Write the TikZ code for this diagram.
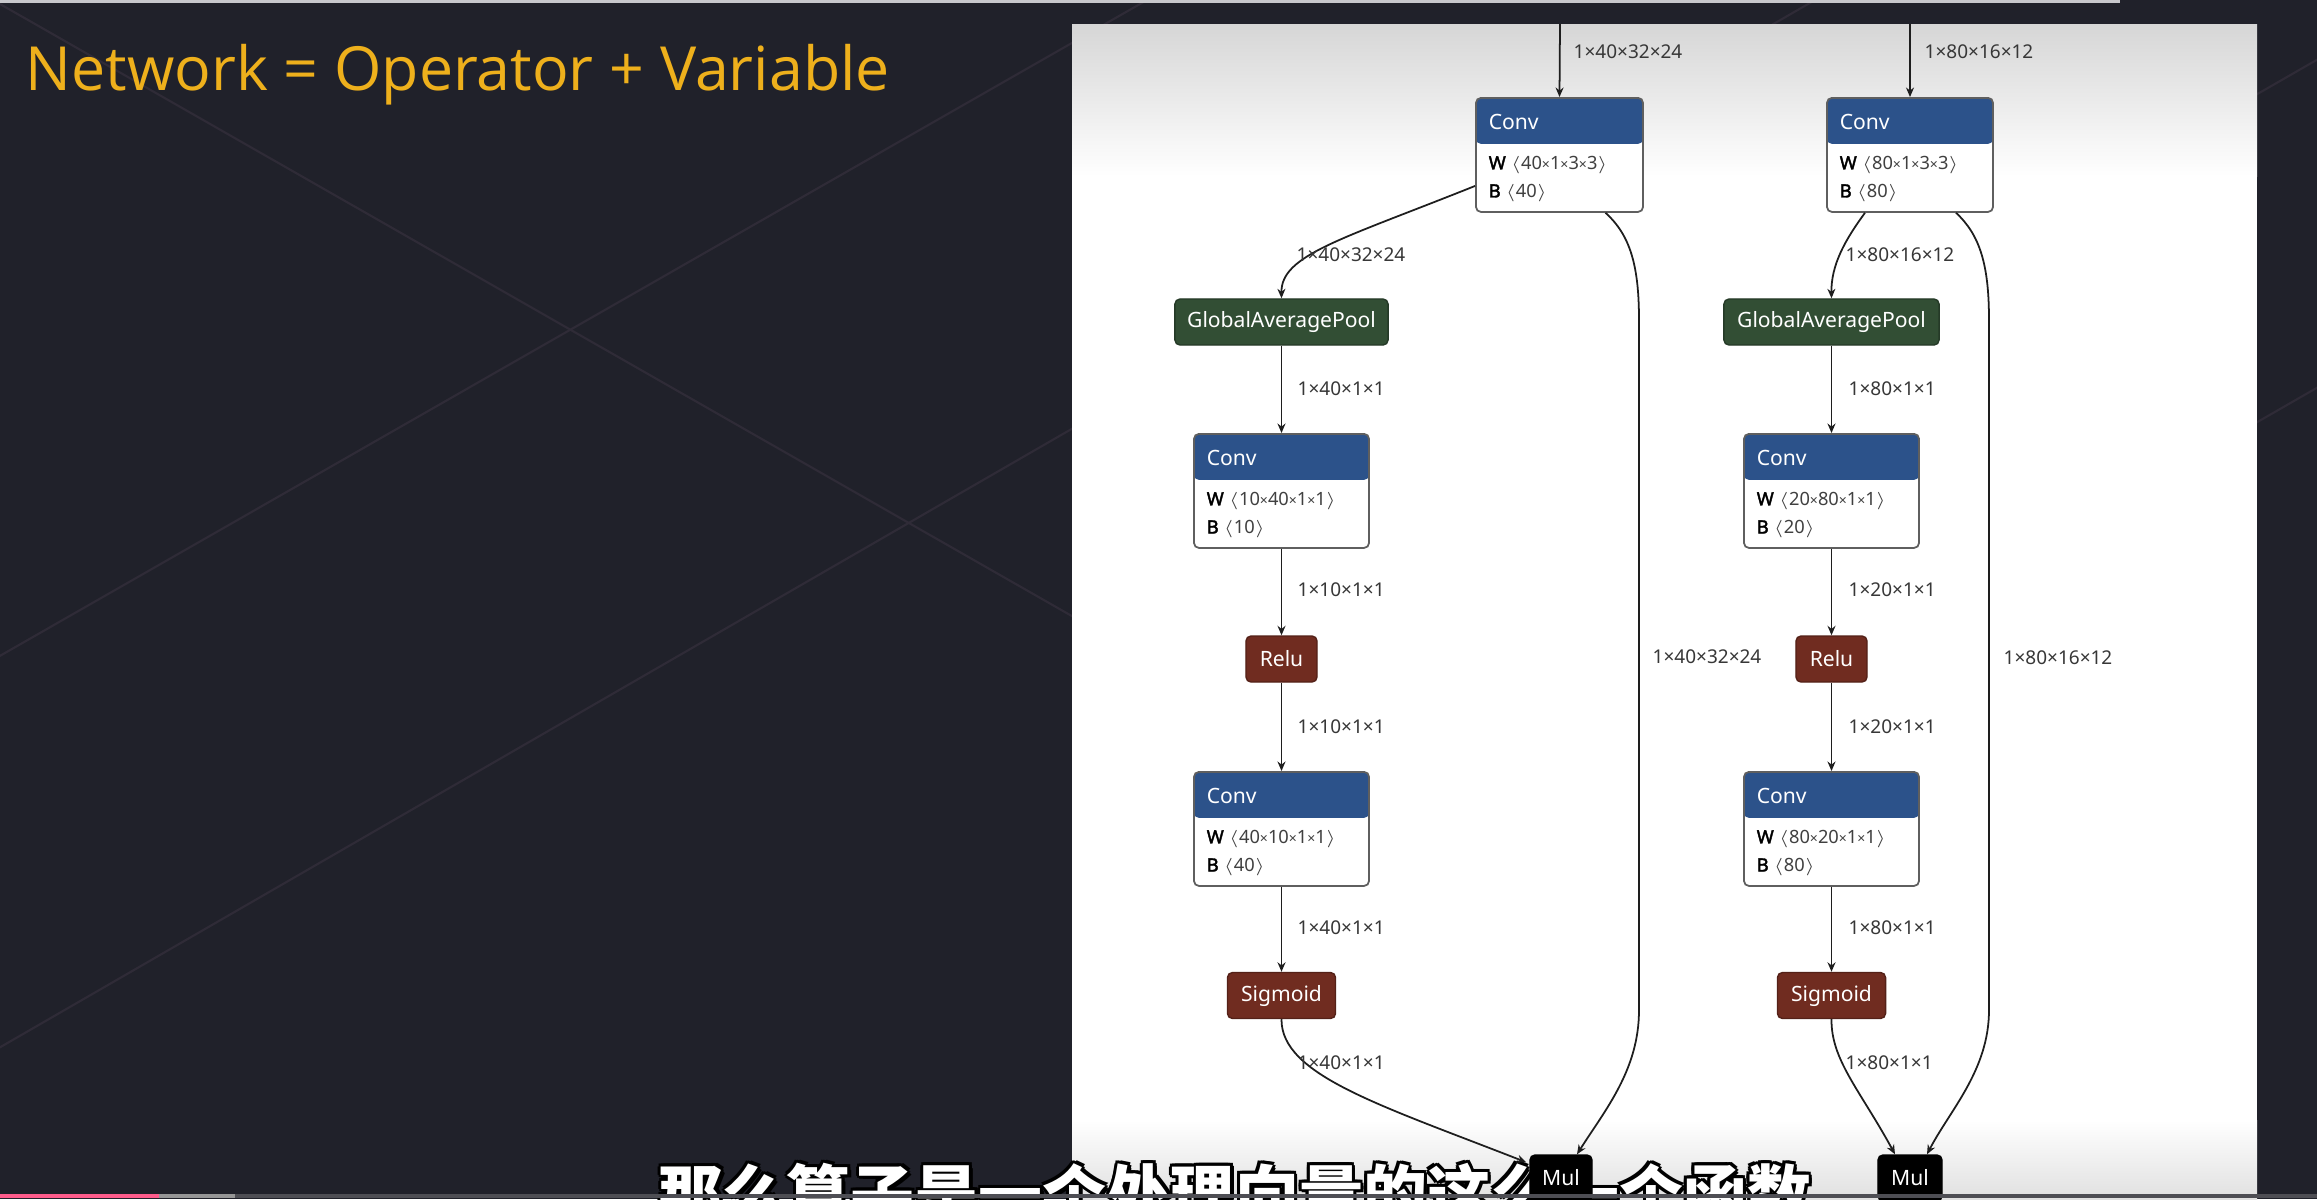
\documentclass[tikz,border=0pt]{standalone}
\usepackage{fontspec}
\setmainfont{Noto Sans}
\newfontfamily\titlefont{Open Sans}
\newfontfamily\cjkfont{Noto Sans CJK SC}
\newfontfamily\keyfont{Noto Sans}[FakeBold=2.2]
\usetikzlibrary{arrows.meta}

\definecolor{bgdark}{RGB}{32,33,42}
\definecolor{bgline}{RGB}{47,43,55}
\definecolor{topbar}{RGB}{200,200,204}
\definecolor{panelgray}{RGB}{214,214,214}
\definecolor{titlegold}{RGB}{238,176,28}
\definecolor{convblue}{RGB}{44,82,138}
\definecolor{poolgreen}{RGB}{50,78,52}
\definecolor{actred}{RGB}{112,44,32}
\definecolor{edgegray}{RGB}{30,30,30}
\definecolor{labelgray}{RGB}{55,55,55}
\definecolor{boxborder}{RGB}{95,95,95}
\definecolor{barpink}{RGB}{255,92,140}
\definecolor{barlight}{RGB}{150,150,150}
\definecolor{bardark}{RGB}{78,78,84}

\newcommand\nodefont{\fontsize{6pt}{7pt}\selectfont}
\newcommand\lblfont{\fontsize{5.4pt}{6pt}\selectfont}
\newcommand\prmfont{\fontsize{5.2pt}{6pt}\selectfont}
\newcommand\tms{{\fontsize{4pt}{4pt}\selectfont ×}}
\newcommand\keyname[1]{{\keyfont\color{black}#1}}

\tikzset{
  edge/.style={draw=edgegray, line width=0.5pt, -{Stealth[length=0.95mm,width=0.8mm]}},
  lbl/.style={anchor=west, inner sep=0, text=labelgray, font=\lblfont},
  opbox/.style={rounded corners=0.5mm, inner sep=0, text=white, font=\nodefont,
    minimum height=4.6mm, draw=#1!75!black, fill=#1, line width=0.4pt},
  convbox/.style={rounded corners=0.5mm, draw=boxborder, fill=white, line width=0.5pt,
    minimum width=#1, minimum height=11.4mm, anchor=north, inner sep=0,
    path picture={\fill[convblue] ([yshift=1pt]path picture bounding box.north west)
      rectangle ([yshift=-4.6mm]path picture bounding box.north east);}},
  hdrtxt/.style={anchor=west, inner sep=0, text=white, font=\nodefont},
  prmtxt/.style={anchor=west, inner sep=0, text=black!75, font=\prmfont},
  subtl/.style={anchor=base, inner sep=0, font=\cjkfont\bfseries\fontsize{18.2pt}{20pt}\selectfont},
}

% Conv block: name, centre x, top y, width, weight shape, bias shape
\newcommand\convblock[6]{%
  \node[convbox=#4] (#1) at (#2,#3) {};
  \node[hdrtxt] (#1-t) at ([xshift=1.3mm,yshift=-2.5mm]#1.north west) {Conv};
  \node[prmtxt] (#1-w) at ([xshift=1.3mm,yshift=-6.8mm]#1.north west) {\keyname{W}\ $\langle$#5$\rangle$};
  \node[prmtxt] (#1-b) at ([xshift=1.3mm,yshift=-9.6mm]#1.north west) {\keyname{B}\ $\langle$#6$\rangle$};
}

\newcommand\subtext{那么算子是一个处理向量的这么一个函数}

\begin{document}
\begin{tikzpicture}[x=0.01cm, y=-0.01cm]
\useasboundingbox (0,0) rectangle (2317,1199);
\clip (0,0) rectangle (2317,1199);

% slide background
\fill[bgdark] (0,0) rectangle (2317,1199);
\draw[bgline, line width=0.6pt] (0,4) -- (2317,1327);
\draw[bgline, line width=0.6pt] (1147,0) -- (-100,713);
\draw[bgline, line width=0.6pt] (1815,0) -- (-100,1105);
\draw[bgline, line width=0.6pt] (2400,340) -- (2200,455);
\draw[bgline, line width=0.6pt] (2400,12) -- (2200,127);
\fill[topbar] (0,0) rectangle (2120,3);

% title
\node[anchor=base west, inner sep=0, text=titlegold,
      font=\titlefont\fontsize{17.3pt}{20pt}\selectfont] (title) at (25,90)
      {Network = Operator + Variable};

% graph panel
\shade[top color=panelgray, bottom color=white] (1072,24) rectangle (2257,176);
\fill[white] (1072,175) rectangle (2257,1121);
\shade[top color=white, bottom color=black!12] (1072,1120) rectangle (2257,1199);

% subtitle with dark outline
\foreach \dx/\dy in {-0.3/0,0.3/0,0/-0.3,0/0.3,-0.22/-0.22,0.22/0.22,-0.22/0.22,0.22/-0.22,0.35/-0.35}
  \node[subtl, text=black, xshift=\dx mm, yshift=\dy mm] at (1235,1218) {\subtext};
\node[subtl, text=white] (subtitle) at (1235,1218) {\subtext};

% ---- left branch ----
\coordinate (in1) at (1560,24);
\convblock{c1}{1559.5}{97}{16.7mm}{40\tms1\tms3\tms3}{40}
\node[opbox=poolgreen, minimum width=21.3mm] (g1) at (1281.5,322) {GlobalAveragePool};
\convblock{c2}{1281.5}{433}{17.5mm}{10\tms40\tms1\tms1}{10}
\node[opbox=actred, minimum width=7.1mm] (r1) at (1281.5,659) {Relu};
\convblock{c3}{1281.5}{771}{17.5mm}{40\tms10\tms1\tms1}{40}
\node[opbox=actred, minimum width=10.8mm] (s1) at (1281.5,995.5) {Sigmoid};

% ---- right branch ----
\coordinate (in2) at (1910,24);
\convblock{d1}{1910}{97}{16.6mm}{80\tms1\tms3\tms3}{80}
\node[opbox=poolgreen, minimum width=21.5mm] (g2) at (1831.5,322) {GlobalAveragePool};
\convblock{d2}{1831.5}{433}{17.5mm}{20\tms80\tms1\tms1}{20}
\node[opbox=actred, minimum width=7.1mm] (r2) at (1831.5,659) {Relu};
\convblock{d3}{1831.5}{771}{17.5mm}{80\tms20\tms1\tms1}{80}
\node[opbox=actred, minimum width=10.8mm] (s2) at (1831.5,995.5) {Sigmoid};

% Mul nodes
\node[opbox=black, minimum width=6.2mm] (m1) at (1561,1178) {Mul};
\node[opbox=black, minimum width=6.4mm] (m2) at (1910,1178) {Mul};

% ---- left edges ----
\draw[edge] (in1) -- (c1.north);
\draw[edge] ([yshift=-3.1mm]c1.west) .. controls (1340,240) and (1281,255) .. (g1.north);
\draw[edge] (g1.south) -- (c2.north);
\draw[edge] (c2.south) -- (r1.north);
\draw[edge] (r1.south) -- (c3.north);
\draw[edge] (c3.south) -- (s1.north);
\draw[edge] (s1.south) .. controls (1281,1075) and (1380,1105) .. ([xshift=-0.3mm,yshift=-0.8mm]m1.north west);
\draw[edge] ([xshift=4.6mm]c1.south) .. controls (1630,235) and (1639,265) .. (1639,320)
  -- (1639,1010) .. controls (1639,1070) and (1605,1110) .. ([xshift=1.6mm]m1.north);

\node[lbl] (l1) at (1573,52) {1×40×32×24};
\node[lbl] (l2) at (1296,255) {1×40×32×24};
\node[lbl] (l3) at (1297,389) {1×40×1×1};
\node[lbl] (l4) at (1297,590) {1×10×1×1};
\node[lbl] (l5) at (1297,727) {1×10×1×1};
\node[lbl] (l6) at (1297,928) {1×40×1×1};
\node[lbl] (l7) at (1297,1063) {1×40×1×1};
\node[lbl] (l8) at (1652,657) {1×40×32×24};

% ---- right edges ----
\draw[edge] (in2) -- (d1.north);
\draw[edge] ([xshift=-4.5mm]d1.south) .. controls (1845,240) and (1831,265) .. (g2.north);
\draw[edge] (g2.south) -- (d2.north);
\draw[edge] (d2.south) -- (r2.north);
\draw[edge] (r2.south) -- (d3.north);
\draw[edge] (d3.south) -- (s2.north);
\draw[edge] (s2.south) .. controls (1831,1060) and (1860,1090) .. ([xshift=-1.5mm]m2.north);
\draw[edge] ([xshift=4.6mm]d1.south) .. controls (1980,235) and (1989,265) .. (1989,320)
  -- (1989,1010) .. controls (1989,1070) and (1950,1110) .. ([xshift=1.7mm]m2.north);

\node[lbl] (k1) at (1924,52) {1×80×16×12};
\node[lbl] (k2) at (1845,255) {1×80×16×12};
\node[lbl] (k3) at (1848,389) {1×80×1×1};
\node[lbl] (k4) at (1848,590) {1×20×1×1};
\node[lbl] (k5) at (1848,727) {1×20×1×1};
\node[lbl] (k6) at (1848,928) {1×80×1×1};
\node[lbl] (k7) at (1845,1063) {1×80×1×1};
\node[lbl] (k8) at (2003,658) {1×80×16×12};

% player progress bar
\fill[bardark] (235,1194) rectangle (2317,1198);
\fill[barlight] (159,1194) rectangle (235,1198);
\fill[barpink] (0,1194) rectangle (159,1198);
\end{tikzpicture}
\end{document}
